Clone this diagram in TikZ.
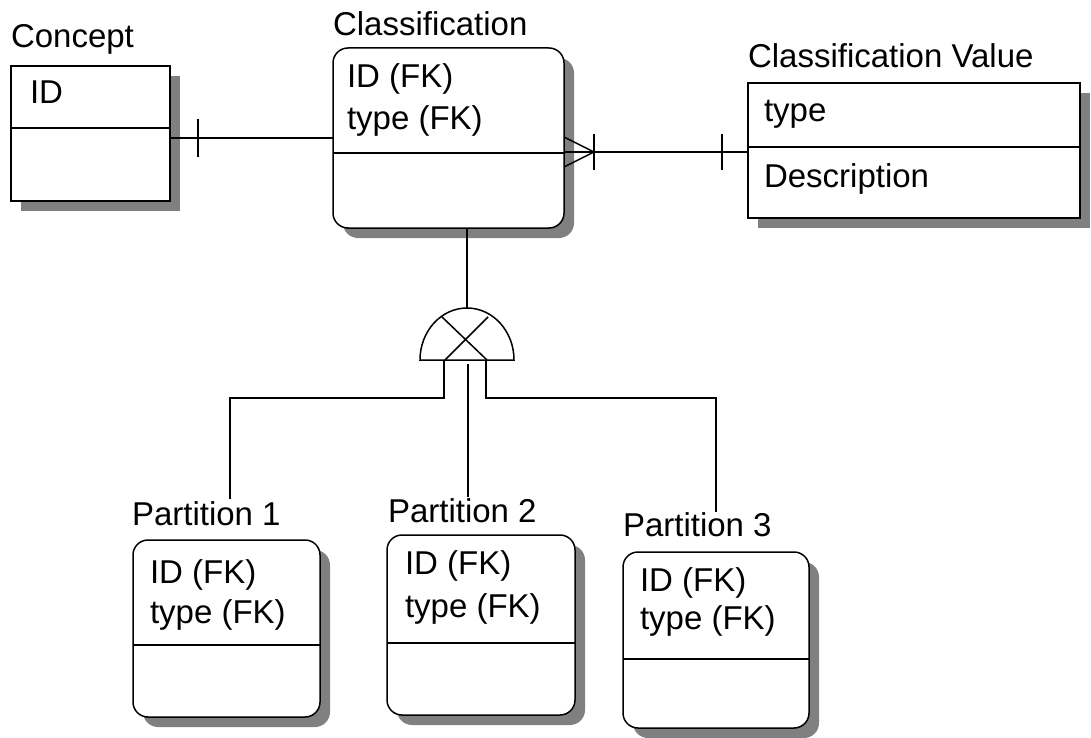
\documentclass[tikz,border=0pt]{standalone}
\usepackage{fontspec}
\setmainfont{Liberation Sans}
\usetikzlibrary{shadows}

\begin{document}
\begin{tikzpicture}[x=1pt,y=-1pt,%
every node/.style={inner sep=0pt, outer sep=0pt},
entity/.style={draw=black, line width=1.5pt, fill=white, anchor=north west,
  drop shadow={shadow xshift=10pt, shadow yshift=-10pt, fill=black!50, opacity=1}},
rentity/.style={entity, rounded corners=15pt},
etitle/.style={anchor=base west, font=\fontsize{33}{40}\selectfont},
attr/.style={anchor=base west, font=\fontsize{33}{40}\selectfont},
rel/.style={draw=black, line width=1.5pt} ]
\useasboundingbox (0,0) rectangle (1091,738);

% entities
\node[etitle] (concepttitle) at (11,48) {Concept};
\node[entity, minimum width=159pt, minimum height=135pt] (concept) at (11,66) {};
\node[attr] (conceptid) at (30,104) {ID};
\draw[rel] (concept.west |- 0,128) -- (concept.east |- 0,128);

\node[etitle] (classiftitle) at (333,36) {Classification};
\node[rentity, minimum width=231pt, minimum height=180pt] (classif) at (333,48) {};
\node[attr] (classifid) at (347,88) {ID (FK)};
\node[attr] (classiftype) at (347,130) {type (FK)};
\draw[rel] (classif.west |- 0,153) -- (classif.east |- 0,153);

\node[etitle] (cvaltitle) at (748,68) {Classification Value};
\node[entity, minimum width=332pt, minimum height=135pt] (cval) at (748,83) {};
\node[attr] (cvaltype) at (764,122) {type};
\node[attr] (cvaldesc) at (764,187) {Description};
\draw[rel] (cval.west |- 0,147) -- (cval.east |- 0,147);

\node[etitle] (part1title) at (132,525) {Partition 1};
\node[rentity, minimum width=187pt, minimum height=177pt] (part1) at (133,540) {};
\node[attr] (part1id) at (150,583) {ID (FK)};
\node[attr] (part1type) at (150,623) {type (FK)};
\draw[rel] (part1.west |- 0,645) -- (part1.east |- 0,645);

\node[etitle] (part2title) at (388,522) {Partition 2};
\node[rentity, minimum width=188pt, minimum height=180pt] (part2) at (387,535) {};
\node[attr] (part2id) at (405,574) {ID (FK)};
\node[attr] (part2type) at (405,617) {type (FK)};
\draw[rel] (part2.west |- 0,643) -- (part2.east |- 0,643);

\node[etitle] (part3title) at (623,536) {Partition 3};
\node[rentity, minimum width=186pt, minimum height=176pt] (part3) at (623,552) {};
\node[attr] (part3id) at (640,591) {ID (FK)};
\node[attr] (part3type) at (640,629) {type (FK)};
\draw[rel] (part3.west |- 0,659) -- (part3.east |- 0,659);

% relationships
\coordinate (bar1) at (198,138);
\draw[rel] (concept.east |- bar1) -- (classif.west |- bar1);
\draw[rel] (bar1) ++(0,-19) -- ++(0,38);

\coordinate (foot) at (594,152);
\coordinate (bar2) at (722,152);
\draw[rel] (classif.east |- foot) -- (cval.west |- foot);
\draw[rel] (classif.east |- 0,137) -- (foot) -- (classif.east |- 0,167);
\draw[rel] (foot) ++(0,-18) -- ++(0,36);
\draw[rel] (bar2) ++(0,-18) -- ++(0,36);

% subtype symbol
\coordinate (sub) at (467,360);
\coordinate (subtop) at (467,308);
\draw[rel] (classif.south -| subtop) -- (subtop);
\draw[rel, fill=white] (sub) ++(-47,0) arc[start angle=180, end angle=360, x radius=47, y radius=52] -- cycle;
\draw[rel] (442,317) -- (487,360);
\draw[rel] (488,317) -- (445,360);

\coordinate (leg1) at (230,499);
\coordinate (leg2) at (468,497);
\coordinate (leg3) at (716,512);
\draw[rel] (444,360) -- (444,398) -| (leg1);
\draw[rel] (leg2 |- 0,364) -- (leg2);
\draw[rel] (486,360) -- (486,398) -| (leg3);
\end{tikzpicture}
\end{document}
